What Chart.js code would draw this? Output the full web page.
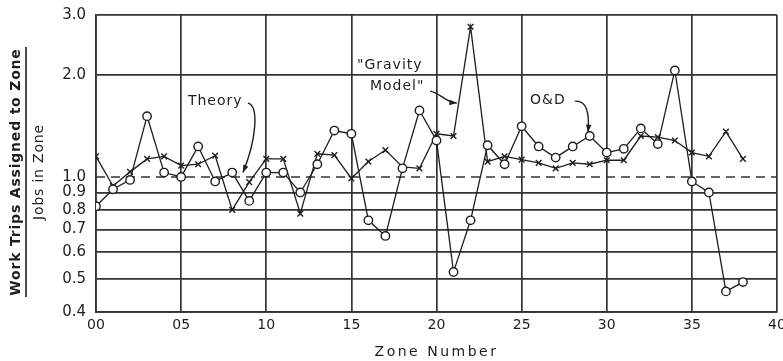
<!DOCTYPE html>
<html>
<head>
<meta charset="utf-8">
<script src="https://cdn.jsdelivr.net/npm/chart.js@4.4.1/dist/chart.umd.min.js"></script>
<style>
html, body { margin: 0; padding: 0; background: #fff; }
#wrap { width: 783px; height: 361px; position: relative; }
</style>
</head>
<body>
<div id="wrap"><canvas id="chart"></canvas></div>
<script>
const zones = [0, 1, 2, 3, 4, 5, 6, 7, 8, 9, 10, 11, 12, 13, 14, 15, 16, 17, 18, 19,
    20, 21, 22, 23, 24, 25, 26, 27, 28, 29, 30, 31, 32, 33, 34, 35, 36, 37, 38];
const oAndD = [0.82, 0.92, 0.98, 1.51, 1.03, 1.00, 1.23, 0.97, 1.03, 0.85,
    1.03, 1.03, 0.90, 1.09, 1.37, 1.34, 0.745, 0.67, 1.06, 1.57,
    1.28, 0.525, 0.745, 1.24, 1.09, 1.41, 1.23, 1.14, 1.23, 1.32,
    1.18, 1.21, 1.39, 1.25, 2.06, 0.97, 0.90, 0.46, 0.49];
const gravityModel = [1.15, 0.94, 1.035, 1.13, 1.15, 1.08, 1.09, 1.155, 0.80, 0.965,
    1.13, 1.13, 0.78, 1.17, 1.16, 0.99, 1.11, 1.20, 1.07, 1.06,
    1.34, 1.32, 2.77, 1.11, 1.15, 1.125, 1.10, 1.06, 1.10, 1.09,
    1.12, 1.12, 1.32, 1.31, 1.28, 1.18, 1.15, 1.36, 1.13];
const theoryZones = [0, 40];
const theoryValues = [1.0, 1.0];

const xTicks = [0, 5, 10, 15, 20, 25, 30, 35, 40];
const yTicks = [0.4, 0.5, 0.6, 0.7, 0.8, 0.9, 1.0, 2.0, 3.0];

// callout labels and their curved arrows, in zone / ratio units
const callouts = [
    {lines: ["Theory"], at: [5.4, 1.67],
     arrow: [[8.92, 1.65], [9.6, 1.62], [9.4, 1.28], [8.63, 1.03]]},
    {lines: ["\"Gravity", "Model\""], at: [15.33, 2.135], indent: [0, 0.76],
     arrow: [[19.62, 1.79], [20.2, 1.77], [20.5, 1.66], [21.2, 1.65]]},
    {lines: ["O&D"], at: [25.49, 1.684],
     arrow: [[28.13, 1.672], [28.8, 1.684], [29.0, 1.552], [28.9, 1.355]]}
];

const ink = "#1e1e1e";
const gridInk = "#333";
const family = "'DejaVu Sans', sans-serif";

const pts = (xs, ys) => xs.map((x, i) => ({x, y: ys[i]}));

const decorations = {
    id: "decorations",
    afterDraw(chart) {
        const {ctx, chartArea, scales: {x, y}} = chart;
        const px = p => [x.getPixelForValue(p[0]), y.getPixelForValue(p[1])];
        ctx.save();
        ctx.fillStyle = ink;
        ctx.strokeStyle = ink;
        ctx.font = "14px " + family;
        ctx.textBaseline = "middle";
        ctx.letterSpacing = "1px";
        callouts.forEach(c => {
            const [tx, ty] = px(c.at);
            c.lines.forEach((line, i) => {
                const dx = c.indent ? c.indent[i] * 17 : 0;
                ctx.fillText(line, tx + dx, ty + i * 21);
            });
            const a = c.arrow.map(px);
            ctx.lineWidth = 1.4;
            ctx.beginPath();
            ctx.moveTo(a[0][0], a[0][1]);
            ctx.bezierCurveTo(a[1][0], a[1][1], a[2][0], a[2][1], a[3][0], a[3][1]);
            ctx.stroke();
            // arrow head
            const ang = Math.atan2(a[3][1] - a[2][1], a[3][0] - a[2][0]);
            ctx.beginPath();
            ctx.moveTo(a[3][0], a[3][1]);
            ctx.lineTo(a[3][0] - 8 * Math.cos(ang - 0.35), a[3][1] - 8 * Math.sin(ang - 0.35));
            ctx.lineTo(a[3][0] - 8 * Math.cos(ang + 0.35), a[3][1] - 8 * Math.sin(ang + 0.35));
            ctx.closePath();
            ctx.fill();
        });

        // x axis title, widely spaced like the original lettering
        ctx.textAlign = "center";
        ctx.letterSpacing = "2.5px";
        ctx.fillText("Zone Number", (chartArea.left + chartArea.right) / 2, 352);

        // y axis title drawn as a fraction
        ctx.letterSpacing = "0.8px";
        ctx.translate(16, 172);
        ctx.rotate(-Math.PI / 2);
        ctx.font = "bold 14px " + family;
        ctx.fillText("Work Trips Assigned to Zone", 0, 0);
        ctx.lineWidth = 1.6;
        ctx.beginPath();
        ctx.moveTo(-125, 10);
        ctx.lineTo(125, 10);
        ctx.stroke();
        ctx.font = "14px " + family;
        ctx.fillText("Jobs in Zone", 0, 23);
        ctx.restore();
    }
};

new Chart(document.getElementById("chart"), {
    type: "line",
    data: {
        datasets: [{
            label: "O&D",
            data: pts(zones, oAndD),
            borderColor: ink,
            borderWidth: 1.3,
            pointStyle: "circle",
            pointRadius: 4.2,
            pointBackgroundColor: "#fff",
            pointBorderColor: ink,
            pointBorderWidth: 1.4,
            order: 1
        }, {
            label: "Gravity Model",
            data: pts(zones, gravityModel),
            borderColor: ink,
            borderWidth: 1.3,
            pointStyle: "crossRot",
            pointRadius: 4,
            pointBorderColor: ink,
            pointBorderWidth: 1.4,
            order: 2
        }, {
            label: "Theory",
            data: pts(theoryZones, theoryValues),
            borderColor: "#333",
            borderWidth: 1.6,
            borderDash: [9, 6],
            pointRadius: 0,
            order: 3
        }]
    },
    options: {
        responsive: true,
        maintainAspectRatio: false,
        animation: false,
        layout: {padding: {left: 0, right: 6, top: 15, bottom: 0}},
        plugins: {legend: {display: false}, tooltip: {enabled: false}},
        scales: {
            x: {
                type: "linear",
                min: 0,
                max: 40,
                afterBuildTicks: s => { s.ticks = xTicks.map(v => ({value: v})); },
                ticks: {
                    callback: v => String(v).padStart(2, "0"),
                    font: {family, size: 14},
                    color: ink,
                    padding: 5,
                    maxRotation: 0,
                    autoSkip: false
                },
                grid: {color: gridInk, lineWidth: 1.7, drawTicks: false},
                border: {color: gridInk, width: 1.7},
                afterFit: s => { s.height = 49; s.paddingLeft = 0; s.paddingRight = 0; }
            },
            y: {
                type: "logarithmic",
                min: 0.4,
                max: 3.0,
                afterBuildTicks: s => { s.ticks = yTicks.map(v => ({value: v})); },
                ticks: {
                    callback: v => Number(v).toFixed(1),
                    font: {family, size: 15},
                    color: ink,
                    padding: 10,
                    autoSkip: false
                },
                grid: {
                    color: ctx => ctx.tick && ctx.tick.value === 1 ? "rgba(0,0,0,0)" : gridInk,
                    lineWidth: 1.7,
                    drawTicks: false
                },
                border: {color: gridInk, width: 1.7},
                afterFit: s => { s.width = 96; s.paddingTop = 0; s.paddingBottom = 0; }
            }
        }
    },
    plugins: [decorations]
});
</script>
</body>
</html>
